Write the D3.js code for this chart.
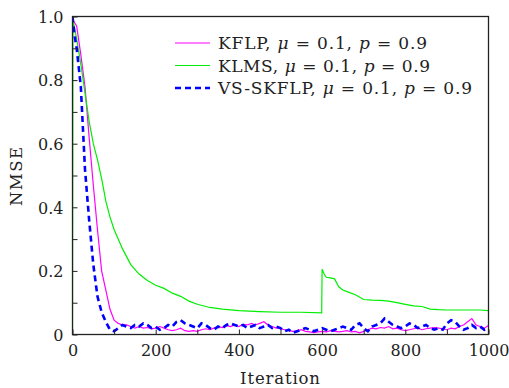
<!DOCTYPE html>
<html>
<head>
<meta charset="utf-8">
<script src="https://cdn.jsdelivr.net/npm/d3@7"></script>
<style>
  body { margin: 0; background: #fff; }
  svg text { font-family: "DejaVu Serif", "Liberation Serif", serif; fill: #222; }
</style>
</head>
<body>
<svg width="509" height="388"></svg>
<script>
  // KLMS (green)
  const klmsX = [0, 1, 10, 20, 30, 40, 50, 60, 70, 80, 90, 100, 120, 140, 160, 180, 200, 220, 240, 260, 280, 300, 330, 360, 400, 450, 500, 550, 599,
    600, 605, 610, 620, 630, 640, 650, 660, 680, 700, 720, 740, 760, 780, 800, 820, 840, 860, 880, 900, 940, 980, 1000];
  const klmsY = [0, 0.99, 0.93, 0.85, 0.76, 0.67, 0.6, 0.55, 0.49, 0.42, 0.37, 0.33, 0.27, 0.22, 0.19, 0.17, 0.155, 0.145, 0.13, 0.12, 0.105, 0.095, 0.085, 0.08, 0.075, 0.072, 0.07, 0.07, 0.068,
    0.205, 0.19, 0.18, 0.178, 0.175, 0.15, 0.14, 0.135, 0.125, 0.11, 0.108, 0.107, 0.105, 0.1, 0.095, 0.09, 0.088, 0.08, 0.078, 0.077, 0.077, 0.077, 0.075];

  // KFLP (magenta), every 10 iterations
  const kflpY = [0.99, 0.97, 0.88, 0.78, 0.62, 0.47, 0.33, 0.2, 0.14, 0.08, 0.045, 0.035, 0.03,
    0.03, 0.025, 0.02, 0.025, 0.02, 0.022, 0.018, 0.02, 0.025, 0.02, 0.015, 0.012, 0.015, 0.02, 0.012, 0.01, 0.012,
    0.01, 0.015, 0.018, 0.015, 0.02, 0.025, 0.022, 0.028, 0.025, 0.03, 0.025, 0.032, 0.03, 0.035, 0.03, 0.035, 0.04,
    0.03, 0.025, 0.02, 0.018, 0.015, 0.012, 0.01, 0.012, 0.015, 0.01, 0.008, 0.006, 0.008, 0.01, 0.008, 0.012, 0.01,
    0.008, 0.01, 0.012, 0.008, 0.01, 0.005, 0.01, 0.015, 0.02, 0.018, 0.022, 0.02, 0.025, 0.018, 0.02, 0.015, 0.012,
    0.015, 0.018, 0.02, 0.015, 0.018, 0.02, 0.022, 0.02, 0.018, 0.015, 0.02, 0.018, 0.025, 0.03, 0.04, 0.05, 0.03,
    0.025, 0.02, 0.028];

  // VS-SKFLP (blue dashed)
  const vsX = [0, 5, 10, 20, 30, 40, 50, 60, 70, 80, 90, 100];
  const vsHead = [1.0, 0.94, 0.9, 0.78, 0.52, 0.36, 0.22, 0.12, 0.07, 0.04, 0.015, 0.01];
  const vsTail = [0.02, 0.03, 0.025, 0.02, 0.03, 0.025, 0.035, 0.03, 0.02, 0.025, 0.015, 0.02, 0.03, 0.025, 0.04,
    0.045, 0.035, 0.03, 0.025, 0.02, 0.035, 0.03, 0.02, 0.015, 0.025, 0.02, 0.03, 0.035, 0.03, 0.025, 0.03, 0.02,
    0.025, 0.03, 0.02, 0.025, 0.03, 0.02, 0.025, 0.02, 0.01, 0.015, 0.005, 0.01, 0.015, 0.02, 0.015, 0.01, 0.015,
    0.02, 0.015, 0.01, 0.015, 0.02, 0.025, 0.02, 0.015, 0.03, 0.035, 0.02, 0.01, 0.025, 0.03, 0.035, 0.05, 0.04,
    0.03, 0.025, 0.02, 0.025, 0.035, 0.03, 0.02, 0.025, 0.03, 0.02, 0.015, 0.02, 0.015, 0.035, 0.045, 0.04, 0.025,
    0.015, 0.02, 0.03, 0.02, 0.025, 0.015, 0.02];

  const xTicks = [0, 200, 400, 600, 800, 1000];
  const yTicks = [0, 0.2, 0.4, 0.6, 0.8, 1.0];

  const svg = d3.select("svg");
  const margin = { left: 72.5, right: 20.5, top: 16.5, bottom: 53.5 };
  const width = +svg.attr("width");
  const height = +svg.attr("height");

  const x = d3.scaleLinear().domain([0, 1000]).range([margin.left, width - margin.right]);
  const y = d3.scaleLinear().domain([0, 1]).range([height - margin.bottom, margin.top]);

  const kflp = kflpY.map((v, i) => [i * 10, v]);
  const klms = klmsX.map((v, i) => [v, klmsY[i]]);
  const vs = vsX.map((v, i) => [v, vsHead[i]]).concat(vsTail.map((v, i) => [110 + i * 10, v]));

  const line = d3.line().x(d => x(d[0])).y(d => y(d[1]));

  svg.append("clipPath").attr("id", "clip").append("rect")
    .attr("x", margin.left).attr("y", margin.top - 1)
    .attr("width", x(1000) - margin.left).attr("height", y(0) - margin.top + 1);

  const plot = svg.append("g").attr("clip-path", "url(#clip)");

  plot.append("path").attr("d", line(kflp))
    .attr("fill", "none").attr("stroke", "#ff00ff").attr("stroke-width", 1.2);
  plot.append("path").attr("d", line(klms))
    .attr("fill", "none").attr("stroke", "#00ee00").attr("stroke-width", 1.2);
  plot.append("path").attr("d", line(vs))
    .attr("fill", "none").attr("stroke", "#0000ff").attr("stroke-width", 2.6)
    .attr("stroke-dasharray", "6,4");

  // axes with inward ticks
  const xAxis = d3.axisBottom(x).tickValues(d3.range(0, 1001, 100))
    .tickSizeInner(-5).tickSizeOuter(0)
    .tickFormat(d => xTicks.includes(d) ? d : "");
  const yAxis = d3.axisLeft(y).tickValues(d3.range(0, 11).map(d => d / 10))
    .tickSizeInner(-5).tickSizeOuter(0)
    .tickFormat(d => {
      const v = Math.round(d * 10) / 10;
      if (!yTicks.some(t => Math.abs(t - v) < 1e-9)) return "";
      return v === 0 ? "0" : v.toFixed(1);
    });

  const gx = svg.append("g").attr("transform", `translate(0,${y(0)})`).call(xAxis);
  const gy = svg.append("g").attr("transform", `translate(${margin.left},0)`).call(yAxis);
  [gx, gy].forEach(g => {
    g.selectAll("text").style("font-family", "DejaVu Serif").style("font-size", "16px").attr("fill", "#222");
    g.selectAll("line").attr("stroke", "#222");
    g.select(".domain").remove();
  });
  gx.selectAll("text").attr("dy", null).attr("y", 21);
  gy.selectAll("text").attr("x", -9).attr("dy", "0.36em");

  // frame
  svg.append("rect")
    .attr("x", margin.left).attr("y", margin.top)
    .attr("width", x(1000) - margin.left).attr("height", y(0) - margin.top)
    .attr("fill", "none").attr("stroke", "#222").attr("stroke-width", 1.3);

  svg.append("text").attr("x", 240).attr("y", 384)
    .attr("textLength", 80).attr("lengthAdjust", "spacing")
    .style("font-size", "16.5px").text("Iteration");
  svg.append("text").attr("transform", `translate(22,206) rotate(-90)`)
    .attr("textLength", 59).attr("lengthAdjust", "spacing")
    .style("font-size", "16.5px").text("NMSE");

  // legend
  const legendNames = ["KFLP", "KLMS", "VS-SKFLP"];
  const legendColors = ["#ff00ff", "#00ee00", "#0000ff"];
  const legendWidths = [209, 212, 254];
  const legend = svg.append("g");
  legendNames.forEach((name, i) => {
    const ly = 43 + i * 22.5;
    legend.append("line").attr("x1", 175).attr("x2", 210).attr("y1", ly).attr("y2", ly)
      .attr("stroke", legendColors[i])
      .attr("stroke-width", i === 2 ? 2.6 : 1.2)
      .attr("stroke-dasharray", i === 2 ? "6,4" : null);
    const t = legend.append("text").attr("x", 218).attr("y", ly + 6)
      .attr("textLength", legendWidths[i]).attr("lengthAdjust", "spacing")
      .style("font-size", "17px");
    t.append("tspan").text(name + ", ");
    t.append("tspan").style("font-style", "italic").text("μ");
    t.append("tspan").text(" = 0.1, ");
    t.append("tspan").style("font-style", "italic").text("p");
    t.append("tspan").text(" = 0.9");
  });
</script>
</body>
</html>
